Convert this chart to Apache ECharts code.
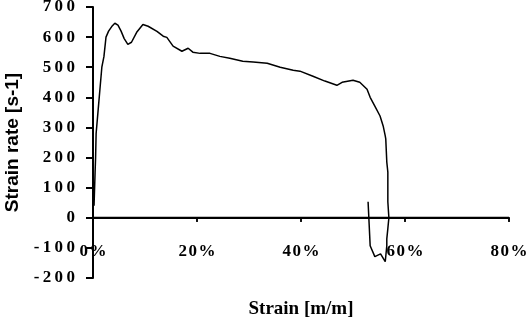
<!DOCTYPE html>
<html>
<head>
<meta charset="utf-8">
<script src="https://cdn.jsdelivr.net/npm/echarts@6/dist/echarts.min.js"></script>
<style>
  html, body {margin: 0; padding: 0; background: #fff;}
  #chart {width: 527px; height: 332px;}
</style>
</head>
<body>
<div id="chart"></div>
<script>
// strain [%] and strain rate [s-1]
const strain = [0.2, 0.4, 0.5, 0.6, 0.8, 1.0, 1.4, 1.7, 2.1, 2.5, 3.0, 3.6, 4.2, 4.8, 5.4, 6.0, 6.7, 7.4, 8.4, 9.6,
    10.6, 12.3, 13.5, 14.2, 15.4, 17.1, 18.3, 19.2, 20.6, 22.5, 24.4, 26.3, 28.8, 30.8, 33.5, 36.0, 38.5, 39.8,
    42.3, 44.6, 46.9, 47.9, 50.0, 51.3, 52.7, 53.3, 54.2, 55.2, 55.8, 56.2, 56.3, 56.5, 56.7, 56.7, 56.9, 56.7,
    56.5, 56.5, 56.2, 55.3, 54.2, 53.3, 52.9];
const strainRate = [40, 150, 200, 280, 285, 360, 440, 500, 535, 600, 620, 635, 646, 640, 620, 595, 576, 583, 616, 642,
    636, 619, 603, 599, 570, 553, 563, 550, 546, 546, 536, 530, 520, 517, 513, 500, 490, 487,
    470, 454, 440, 450, 457, 450, 427, 400, 371, 338, 305, 272, 262, 185, 152, 53, 0, -36,
    -70, -93, -146, -120, -129, -93, 53];
const xTicks = [0, 20, 40, 60, 80];

const points = strain.map((s, i) => [s, strainRate[i]]);

// the original labels are widely spaced, so put a small space between the characters
const spaced = (txt, sp) => String(txt).split('').join(sp);

// zero line across the plot and the little ticks hanging under it
const zeroLine = [[xTicks[0], 0], [xTicks[xTicks.length - 1], 0]];
const zeroTicks = [];
xTicks.slice(1).forEach(t => {
    zeroTicks.push([t, 0], [t, -13], [t, '-']);
});

const myChart = echarts.init(document.getElementById('chart'));
myChart.setOption({
    animation: false,
    grid: {
        left: 93,
        right: 18,
        top: 7,
        bottom: 54,
        outerBoundsMode: 'none'
    },
    xAxis: {
        type: 'value',
        min: xTicks[0],
        max: xTicks[xTicks.length - 1],
        interval: 20,
        position: 'bottom',
        // move the axis up from the grid bottom to the zero line
        offset: -60,
        name: 'Strain [m/m]',
        nameLocation: 'middle',
        nameGap: 82,
        nameTextStyle: {
            fontFamily: 'Liberation Serif',
            fontWeight: 'bold',
            fontSize: 19,
            color: '#000'
        },
        axisLine: {show: true, onZero: false, lineStyle: {color: '#000', width: 2}},
        axisTick: {show: true, length: 4, lineStyle: {color: '#000', width: 1.5}},
        axisLabel: {
            margin: 25,
            formatter: (v) => spaced(v + '%', '\u200A'),
            fontFamily: 'Liberation Serif',
            fontWeight: 'bold',
            fontSize: 17,
            color: '#000'
        },
        splitLine: {show: false}
    },
    yAxis: {
        type: 'value',
        min: -200,
        max: 700,
        interval: 100,
        name: 'Strain rate [s-1]',
        nameLocation: 'middle',
        nameGap: 63,
        nameTextStyle: {
            fontFamily: 'Liberation Sans',
            fontWeight: 'bold',
            fontSize: 19,
            color: '#000'
        },
        axisLine: {show: true, lineStyle: {color: '#000', width: 2}},
        axisTick: {show: true, length: 7, lineStyle: {color: '#000', width: 2}},
        axisLabel: {
            margin: 18,
            formatter: (v) => spaced(v, '\u2009'),
            fontFamily: 'Liberation Serif',
            fontWeight: 'bold',
            fontSize: 17,
            color: '#000'
        },
        splitLine: {show: false}
    },
    series: [
        {
            type: 'line',
            data: zeroLine,
            showSymbol: false,
            silent: true,
            lineStyle: {color: '#000', width: 2}
        },
        {
            type: 'line',
            data: zeroTicks,
            showSymbol: false,
            silent: true,
            connectNulls: false,
            lineStyle: {color: '#000', width: 1.5}
        },
        {
            type: 'line',
            data: points,
            showSymbol: false,
            smooth: false,
            lineStyle: {color: '#000', width: 1.5}
        }
    ]
});
</script>
</body>
</html>
